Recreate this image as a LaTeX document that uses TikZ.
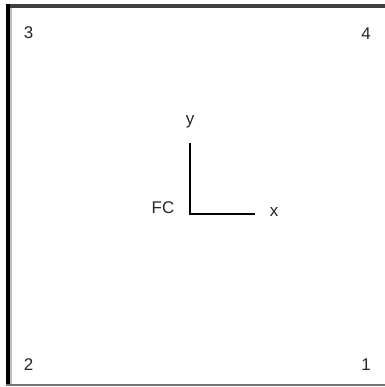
\documentclass[tikz,border=0pt]{standalone}
\usepackage{fontspec}
\setmainfont{Liberation Sans}
\begin{document}
\begin{tikzpicture}[x=1bp,y=-1bp,
  lbl/.style={font=\fontsize{17}{19}\selectfont, inner sep=0pt, text=black!85},
  axis/.style={line width=1.5bp, black}]
\useasboundingbox (0,0) rectangle (385,387);
\fill[white] (0,0) rectangle (385,387);
% frame
\fill[black!75] (7,4) rectangle (385,7.5);
\fill[black] (6,4) rectangle (10,386);
\fill[black!25] (10,7.5) rectangle (11.5,384);
\fill[black!55] (6,384) rectangle (385,386);
% corner labels
\node[lbl] (n3) at (28.5,33) {3};
\node[lbl] (n4) at (366,34) {4};
\node[lbl] (n2) at (28.5,365) {2};
\node[lbl] (n1) at (366,365) {1};
% axes
\coordinate (o) at (190,214);
\coordinate (ytop) at (190,143);
\coordinate (xend) at (255,214);
\draw[axis] (ytop) -- (o) -- (xend);
\node[lbl] (y) at (190,122) {y};
\node[lbl] (x) at (274,212) {x};
\node[lbl] (fc) at (163,208) {FC};
\end{tikzpicture}
\end{document}
